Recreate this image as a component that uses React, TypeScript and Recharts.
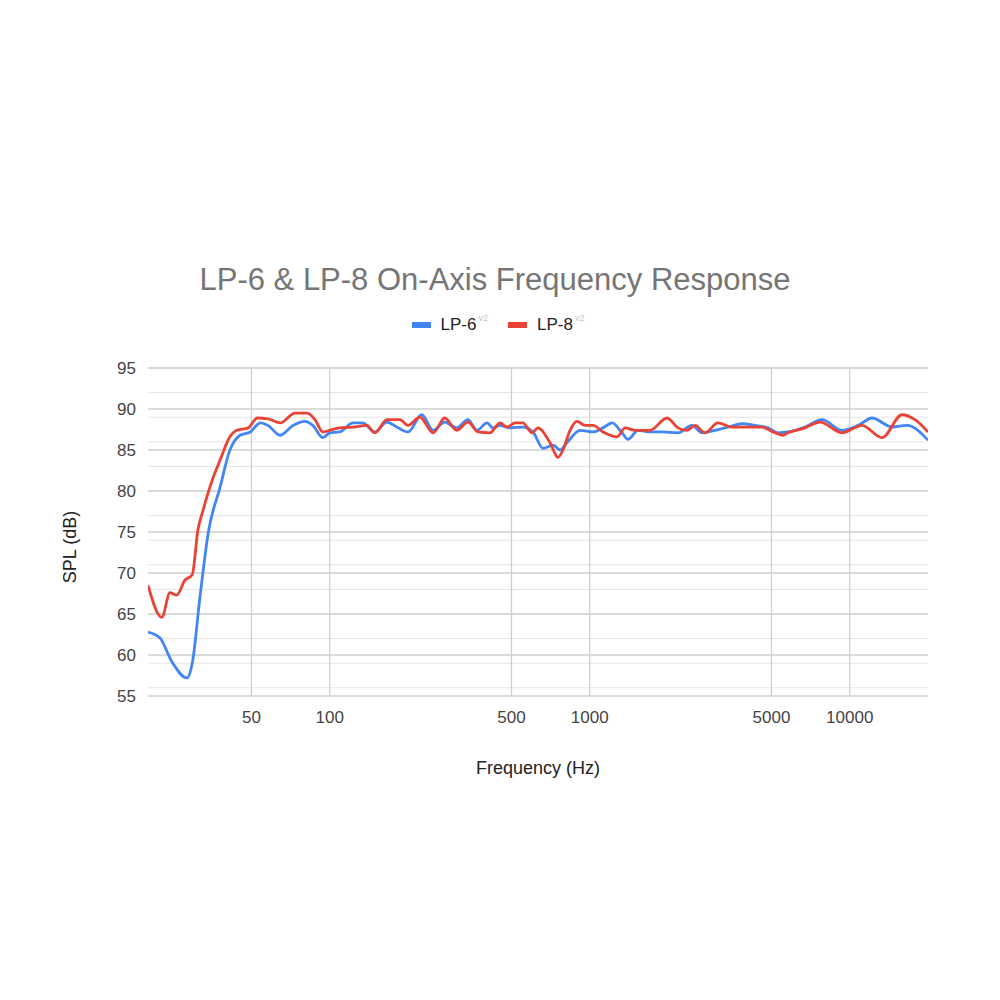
import {
  LineChart, Line, XAxis, YAxis, CartesianGrid,
} from 'recharts'

// LP-6 v2 readings (Hz, dB)
const lp6Freq = [
  20, 22.2, 24.8, 28.2, 29.6, 31.7, 34.1, 37.9, 41.1, 45.2, 49.5, 54.1, 57.9, 64.5, 72.2, 80.3, 86.1, 94.2,
  100, 109, 123, 134, 149, 166, 181, 200, 226, 250, 277, 308, 340, 368, 403, 424, 452, 493,
  553, 605, 661, 723, 769, 818, 918, 1030, 1125, 1219, 1332, 1403, 1533, 1706, 1897, 2184,
  2472, 2704, 3035, 3404, 3855, 4325, 4852, 5300, 5791, 6730, 7828, 9333, 10767, 12190,
  14545, 16600, 20000,
]
const lp6Spl = [
  62.8, 62.1, 59.1, 57.2, 59.0, 67.1, 74.9, 80.5, 84.8, 86.8, 87.2, 88.3, 88.0, 86.8, 88.0, 88.5, 88.0, 86.5,
  87.1, 87.2, 88.3, 88.3, 87.2, 88.4, 87.8, 87.2, 89.3, 87.4, 88.4, 87.7, 88.7, 87.4, 88.3, 87.7, 88.0, 87.7,
  87.8, 87.2, 85.2, 85.6, 85.0, 85.9, 87.4, 87.2, 87.7, 88.3, 87.1, 86.3, 87.4, 87.2, 87.2, 87.1,
  88.0, 87.1, 87.4, 87.8, 88.2, 88.0, 87.7, 87.1, 87.2, 87.8, 88.7, 87.4, 88.0, 88.9,
  87.8, 88.0, 86.2,
]

// LP-8 v2 readings (Hz, dB)
const lp8Freq = [
  20, 22.6, 24.3, 25.8, 27.7, 29.6, 31.1, 32.6, 35.3, 37.9, 41.1, 43.9, 48.6, 52.6, 57.9, 64.5, 73.5, 81.8, 87.8, 94.2,
  100, 109, 123, 139, 149, 166, 186, 200, 222, 250, 277, 308, 340, 372, 413, 452, 481, 516, 553,
  600, 632, 703, 755, 789, 840, 893, 960, 1030, 1125, 1274, 1368, 1493, 1706, 1982, 2184, 2366,
  2541, 2775, 3112, 3525, 4064, 4603, 5073, 5534, 5791, 6730, 7690, 9333, 11143, 13306, 15887,
  17826, 20000,
]
const lp8Spl = [
  68.5, 64.6, 67.6, 67.3, 69.1, 69.8, 75.2, 77.7, 81.3, 83.8, 86.5, 87.4, 87.7, 88.9, 88.8, 88.3, 89.5, 89.5, 88.7, 87.2,
  87.4, 87.7, 87.8, 88.0, 87.1, 88.7, 88.7, 88.0, 89.0, 87.1, 88.9, 87.4, 88.4, 87.2, 87.1, 88.3, 87.8, 88.3, 88.3,
  87.1, 87.7, 85.9, 84.1, 85.0, 87.4, 88.5, 88.0, 88.0, 87.2, 86.6, 87.7, 87.4, 87.4, 88.9, 87.7, 87.4,
  88.0, 87.1, 88.3, 87.8, 87.8, 87.8, 87.2, 86.8, 87.1, 87.7, 88.4, 87.1, 88.0, 86.5, 89.3,
  88.7, 87.2,
]

const xTicks = [50, 100, 500, 1000, 5000, 10000]
const yTicks = [55, 60, 65, 70, 75, 80, 85, 90, 95]
const yMinor = Array.from({ length: 41 }, (_, i) => 55 + i)

const lp6Data = lp6Freq.map((f, i) => ({ freq: f, spl: lp6Spl[i] }))
const lp8Data = lp8Freq.map((f, i) => ({ freq: f, spl: lp8Spl[i] }))

const FONT = '"Liberation Sans", Arial, sans-serif'
const BLUE = '#4285F4'
const RED = '#EA4335'

const legendItems = [{ name: 'LP-6', color: BLUE }, { name: 'LP-8', color: RED }]

export default function App() {
  return (
    <div style={{ position: 'absolute', top: 0, left: 0, width: 1000, height: 1000, background: '#fff', fontFamily: FONT }}>
      <div style={{ position: 'absolute', top: 262, left: 0, width: 990, textAlign: 'center', fontSize: 31, color: '#757575' }}>
        LP-6 &amp; LP-8 On-Axis Frequency Response
      </div>
      <div style={{ position: 'absolute', top: 315, left: 0, width: 996, display: 'flex', justifyContent: 'center', alignItems: 'center', fontSize: 17, color: '#222' }}>
        {legendItems.map(s => (
          <div key={s.name} style={{ display: 'flex', alignItems: 'center', margin: '0 10px' }}>
            <span style={{ display: 'inline-block', width: 19, height: 6, background: s.color, marginRight: 10 }} />
            <span>{s.name}</span>
            <span style={{ fontSize: 9, color: '#c4c4c4', marginLeft: 2, position: 'relative', top: -7 }}>v2</span>
          </div>
        ))}
      </div>
      <div style={{ position: 'absolute', left: 70, top: 547, transform: 'translate(-50%, -50%) rotate(-90deg)', fontSize: 18, color: '#222', whiteSpace: 'nowrap' }}>
        SPL (dB)
      </div>
      <div style={{ position: 'absolute', left: 538, top: 768, transform: 'translate(-50%, -50%)', fontSize: 18, color: '#222', whiteSpace: 'nowrap' }}>
        Frequency (Hz)
      </div>
      <LineChart width={1000} height={1000} margin={{ top: 368, right: 72, left: 88, bottom: 274 }}>
        <CartesianGrid horizontalValues={yMinor} vertical={false} stroke="#e4e4e4" strokeWidth={1} />
        <CartesianGrid horizontalValues={yTicks} verticalValues={xTicks} stroke="#cfcfcf" strokeWidth={1.3} />
        <XAxis
          dataKey="freq"
          type="number"
          scale="log"
          domain={[20, 20000]}
          ticks={xTicks}
          allowDataOverflow
          axisLine={false}
          tickLine={false}
          tickMargin={9}
          height={30}
          tick={{ fontSize: 17, fill: '#444', fontFamily: FONT }}
        />
        <YAxis
          type="number"
          domain={[55, 95]}
          ticks={yTicks}
          allowDataOverflow
          axisLine={false}
          tickLine={false}
          tickMargin={6}
          width={60}
          tick={{ fontSize: 17, fill: '#444', fontFamily: FONT }}
        />
        <Line data={lp6Data} dataKey="spl" name="LP-6" type="monotone" stroke={BLUE} strokeWidth={2.8} dot={false} isAnimationActive={false} />
        <Line data={lp8Data} dataKey="spl" name="LP-8" type="monotone" stroke={RED} strokeWidth={2.8} dot={false} isAnimationActive={false} />
      </LineChart>
    </div>
  )
}
